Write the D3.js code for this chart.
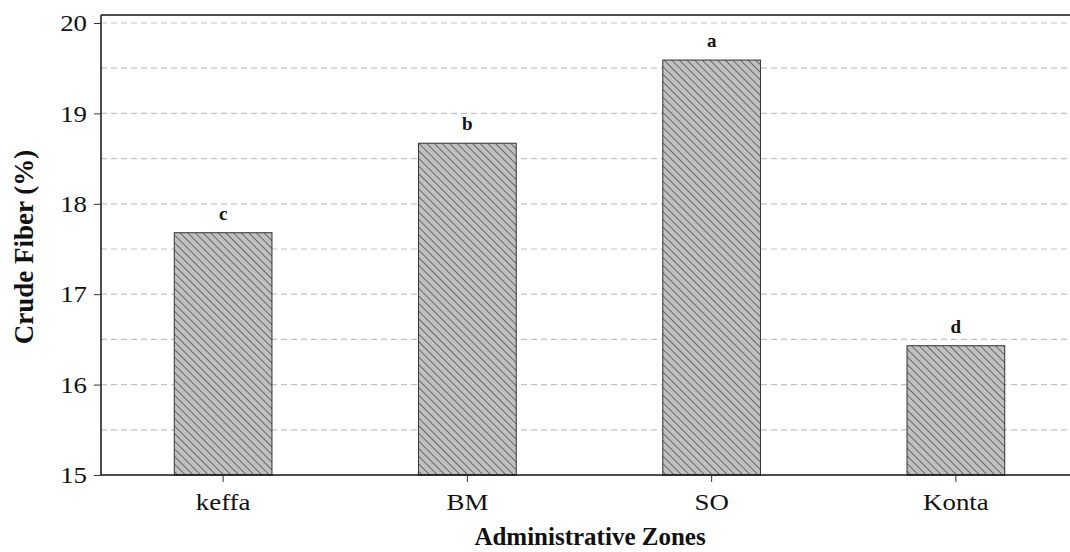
<!DOCTYPE html>
<html lang="en">
<head>
<meta charset="UTF-8">
<title>Crude Fiber</title>
<script src="https://cdn.jsdelivr.net/npm/d3@7"></script>
<style>
  body { margin: 0; background: #fff; }
</style>
</head>
<body>
<div class="container"></div>
<script>
// data
const zones = ["keffa", "BM", "SO", "Konta"];
const fiber = [17.68, 18.67, 19.59, 16.43];
const letters = ["c", "b", "a", "d"];
const yTicks = [15, 16, 17, 18, 19, 20];
const gridTicks = [15.5, 16, 16.5, 17, 17.5, 18, 18.5, 19, 19.5, 20];

const width = 1070, height = 552;
const marginLeft = 101, plotRight = 1078, plotTop = 15, plotBottom = 475;
const serif = "'Liberation Serif', 'Times New Roman', Times, serif";

const svg = d3.create("svg")
    .attr("width", width)
    .attr("height", height)
    .attr("viewBox", [0, 0, width, height]);

// hatch pattern for the bars
const hs = 5.4;
const pat = svg.append("defs").append("pattern")
    .attr("id", "hatch")
    .attr("patternUnits", "userSpaceOnUse")
    .attr("width", hs)
    .attr("height", hs)
    .attr("patternTransform", "rotate(-45)");
pat.append("rect").attr("width", hs).attr("height", hs).attr("fill", "#c0c0c0");
pat.append("line")
    .attr("x1", 0).attr("y1", 0).attr("x2", 0).attr("y2", hs)
    .attr("stroke", "#3a3a3a").attr("stroke-width", 1.3);

const x = d3.scaleBand()
    .domain(zones)
    .range([marginLeft, plotRight])
    .paddingInner(0.6)
    .paddingOuter(0.3);

const y = d3.scaleLinear()
    .domain([15, 20])
    .range([plotBottom, 23]);

// dashed grid
svg.append("g")
    .selectAll("line")
    .data(gridTicks)
    .join("line")
      .attr("x1", marginLeft)
      .attr("x2", width)
      .attr("y1", d => y(d))
      .attr("y2", d => y(d))
      .attr("stroke", "#c4c4c4")
      .attr("stroke-width", 1.2)
      .attr("stroke-dasharray", "6,4");

// top frame line
svg.append("line")
    .attr("x1", marginLeft).attr("x2", width)
    .attr("y1", plotTop).attr("y2", plotTop)
    .attr("stroke", "#111").attr("stroke-width", 1.6);

// bars
const data = zones.map((z, i) => ({zone: z, value: fiber[i], letter: letters[i]}));
svg.append("g")
    .selectAll("rect")
    .data(data)
    .join("rect")
      .attr("x", d => x(d.zone))
      .attr("y", d => y(d.value))
      .attr("width", x.bandwidth())
      .attr("height", d => y(15) - y(d.value))
      .attr("fill", "url(#hatch)")
      .attr("stroke", "#333")
      .attr("stroke-width", 1);

// significance letters
svg.append("g")
    .selectAll("text")
    .data(data)
    .join("text")
      .attr("x", d => x(d.zone) + x.bandwidth() / 2)
      .attr("y", d => y(d.value) - 13)
      .attr("text-anchor", "middle")
      .style("font-family", serif)
      .style("font-size", "19px")
      .style("font-weight", "bold")
      .style("fill", "#111")
      .text(d => d.letter);

// x axis
svg.append("g")
    .attr("transform", `translate(0,${plotBottom})`)
    .call(d3.axisBottom(x).tickSize(7).tickSizeOuter(0))
    .call(g => g.select(".domain").attr("d", `M${marginLeft},0H${width}`).attr("stroke", "#111").attr("stroke-width", 1.5))
    .call(g => g.selectAll(".tick line").attr("stroke", "#333"))
    .call(g => g.selectAll(".tick text")
        .attr("y", 35).attr("dy", null)
        .attr("transform", "scale(1.12,1)")
        .style("font-family", serif).style("font-size", "24px").style("fill", "#111"));

// y axis
svg.append("g")
    .attr("transform", `translate(${marginLeft},0)`)
    .call(d3.axisLeft(y).tickValues(yTicks).tickFormat(d3.format("d")).tickSize(7).tickSizeOuter(0).tickPadding(5.5))
    .call(g => g.select(".domain").attr("d", `M0,${plotTop}V${plotBottom}`).attr("stroke", "#111").attr("stroke-width", 1.5))
    .call(g => g.selectAll(".tick line").attr("stroke", "#333"))
    .call(g => g.selectAll(".tick text")
        .attr("transform", "scale(1.12,1)")
        .style("font-family", serif).style("font-size", "24px").style("fill", "#111"));

// axis titles
svg.append("text")
    .attr("x", 590)
    .attr("y", 545)
    .attr("text-anchor", "middle")
    .style("font-family", serif)
    .style("font-size", "25px")
    .style("font-weight", "bold")
    .style("fill", "#111")
    .text("Administrative Zones");

svg.append("text")
    .attr("transform", "translate(33,247) rotate(-90)")
    .attr("text-anchor", "middle")
    .style("font-family", serif)
    .style("font-size", "27px")
    .style("font-weight", "bold")
    .style("fill", "#111")
    .text("Crude Fiber (%)");

document.querySelector(".container").appendChild(svg.node());
</script>
</body>
</html>
